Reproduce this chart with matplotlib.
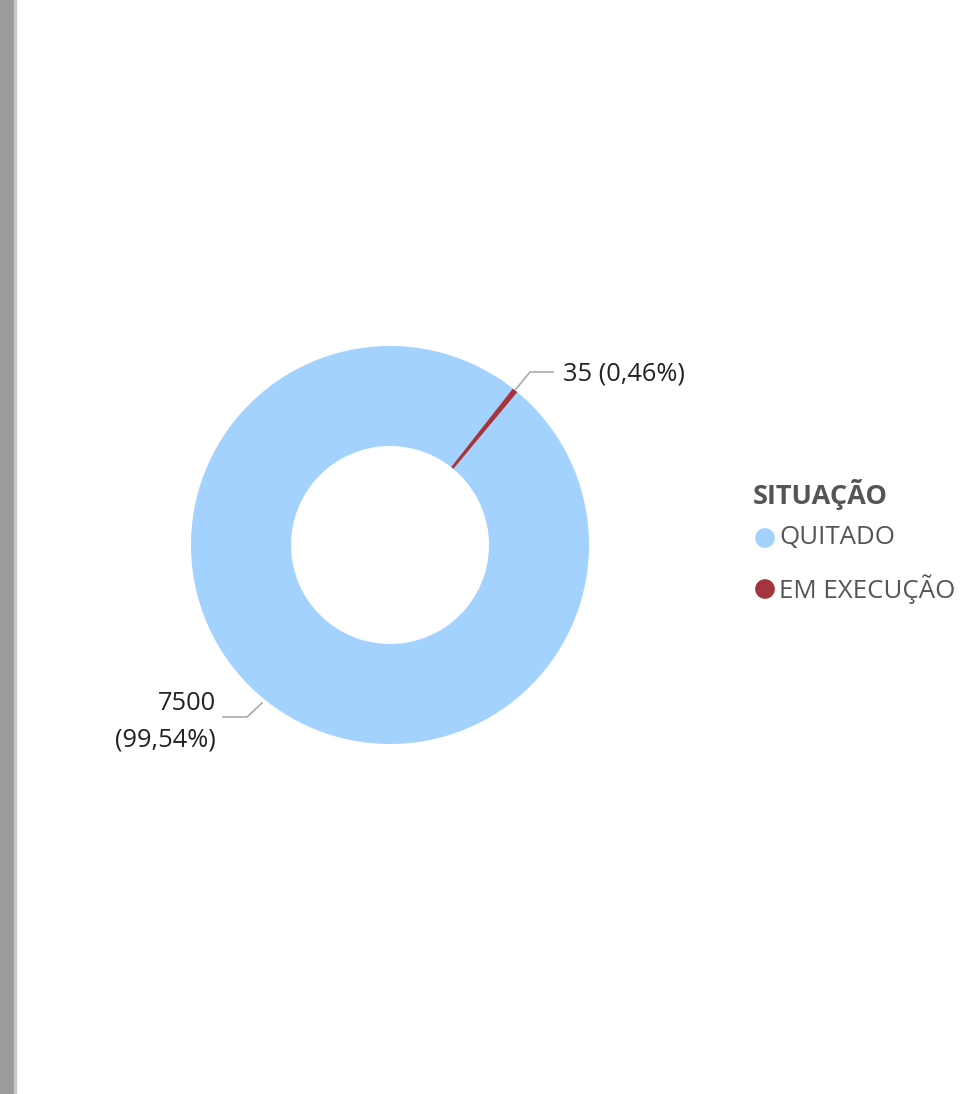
import matplotlib.pyplot as plt
from matplotlib.patches import Rectangle

# dados do gráfico
situacoes = ['QUITADO', 'EM EXECUÇÃO']
quantidades = [7500, 35]
percentuais = ['99,54%', '0,46%']
cores = ['#A3D2FF', '#A4343D']

W, H = 971, 1094
fig = plt.figure(figsize=(W / 100, H / 100), dpi=100)
ax = fig.add_axes([0, 0, 1, 1])
ax.set_xlim(0, W)
ax.set_ylim(0, H)
ax.set_aspect('equal')
ax.axis('off')

plt.rcParams['font.family'] = ['Open Sans', 'DejaVu Sans']

# faixa cinza na borda esquerda
ax.add_patch(Rectangle((0, 0), 14, H, color='#9B9B9B', zorder=0))
ax.add_patch(Rectangle((14, 0), 2, H, color='#C8C8C8', zorder=0))

cx, cy = 390, H - 545
raio = 199
ax.pie(quantidades, colors=cores, startangle=50.2, counterclock=False,
       center=(cx, cy), radius=raio, frame=True,
       wedgeprops=dict(width=100, edgecolor='none'))
ax.set_xlim(0, W)
ax.set_ylim(0, H)
ax.axis('off')

fs = 18.3
linha = '#AAAAAA'
# rótulo da fatia pequena
ax.plot([516, 530, 553], [H - 389, H - 372, H - 372], color=linha, lw=1.2)
ax.text(563, H - 374, f'{quantidades[1]} ({percentuais[1]})', fontsize=fs,
        color='#222222', va='center', ha='left')
# rótulo da fatia grande
ax.plot([262, 247, 223], [H - 703, H - 717, H - 717], color=linha, lw=1.2)
ax.text(216, H - 703, f'{quantidades[0]}', fontsize=fs, color='#222222',
        va='center', ha='right')
ax.text(216, H - 740, f'({percentuais[0]})', fontsize=fs, color='#222222',
        va='center', ha='right')

# legenda
ax.text(753, H - 495, 'SITUAÇÃO', fontsize=19.5, fontweight='bold',
        color='#555555', va='center', ha='left')
for i, (nome, cor) in enumerate(zip(situacoes, cores)):
    y = H - 538 - i * 51
    ax.scatter([765], [y], s=200, color=cor, edgecolors='none')
    ax.text(779, y, nome, fontsize=18.6, color='#555555', va='center', ha='left')

fig.savefig('out.png', dpi=100)
